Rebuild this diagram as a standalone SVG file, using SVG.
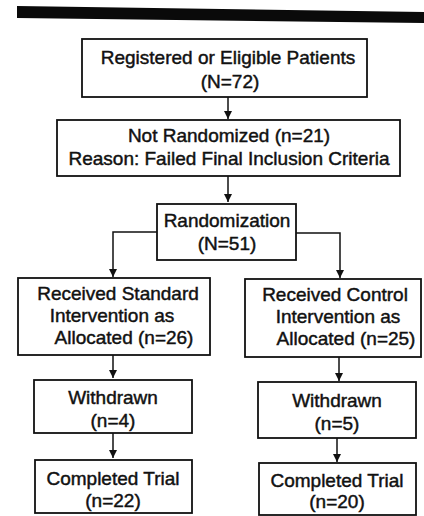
<svg xmlns="http://www.w3.org/2000/svg" width="424" height="516" viewBox="0 0 424 516">
<defs>
<style>
.box{fill:#fff;stroke:#111;stroke-width:1.8}
.t{font-family:"Liberation Sans",Arial,sans-serif;font-size:19px;fill:#111;stroke:#111;stroke-width:0.45;text-anchor:middle}
.c{fill:none;stroke:#111;stroke-width:1.5}
</style>
<marker id="ah" viewBox="0 0 8 10" refX="8" refY="5" markerWidth="8" markerHeight="10" markerUnits="userSpaceOnUse" orient="auto">
<path d="M0,1 L8,5 L0,9 Z" fill="#111"/>
</marker>
</defs>
<rect width="424" height="516" fill="#fff"/>
<polygon points="17,6 424,12 424,23 17,18" fill="#0a0a0a"/>
<g id="connectors">
<path class="c" d="M228,97 V119" marker-end="url(#ah)"/>
<path class="c" d="M228,176 V202" marker-end="url(#ah)"/>
<path class="c" d="M157,232 H113 V277" marker-end="url(#ah)"/>
<path class="c" d="M296,233 H340 V278" marker-end="url(#ah)"/>
<path class="c" d="M113,355 V378" marker-end="url(#ah)"/>
<path class="c" d="M339,357 V381" marker-end="url(#ah)"/>
<path class="c" d="M113,433 V458" marker-end="url(#ah)"/>
<path class="c" d="M337,438 V462" marker-end="url(#ah)"/>
</g>
<g id="registered">
<rect class="box" x="82" y="39" width="285" height="58"/>
<text class="t" x="228" y="64">Registered or Eligible Patients</text>
<text class="t" x="230" y="88">(N=72)</text>
</g>
<g id="not-randomized">
<rect class="box" x="57" y="120" width="343" height="56"/>
<text class="t" x="229" y="142">Not Randomized (n=21)</text>
<text class="t" x="229" y="165">Reason: Failed Final Inclusion Criteria</text>
</g>
<g id="randomization">
<rect class="box" x="157" y="204" width="139" height="56"/>
<text class="t" x="227" y="227">Randomization</text>
<text class="t" x="227" y="250">(N=51)</text>
</g>
<g id="standard">
<rect class="box" x="18" y="278" width="192" height="77"/>
<text class="t" x="118" y="300">Received Standard</text>
<text class="t" x="112" y="322">Intervention as</text>
<text class="t" x="124" y="344">Allocated (n=26)</text>
</g>
<g id="control">
<rect class="box" x="245" y="279" width="176" height="78"/>
<text class="t" x="335" y="301">Received Control</text>
<text class="t" x="338" y="323">Intervention as</text>
<text class="t" x="346" y="345">Allocated (n=25)</text>
</g>
<g id="withdrawn-left">
<rect class="box" x="34" y="380" width="158" height="53"/>
<text class="t" x="113" y="404">Withdrawn</text>
<text class="t" x="113" y="427">(n=4)</text>
</g>
<g id="withdrawn-right">
<rect class="box" x="258" y="382" width="158" height="56"/>
<text class="t" x="337" y="407">Withdrawn</text>
<text class="t" x="337" y="430">(n=5)</text>
</g>
<g id="completed-left">
<rect class="box" x="35" y="460" width="157" height="53"/>
<text class="t" x="113" y="485">Completed Trial</text>
<text class="t" x="113" y="507">(n=22)</text>
</g>
<g id="completed-right">
<rect class="box" x="259" y="463" width="157" height="52"/>
<text class="t" x="337" y="487">Completed Trial</text>
<text class="t" x="337" y="508">(n=20)</text>
</g>
</svg>
